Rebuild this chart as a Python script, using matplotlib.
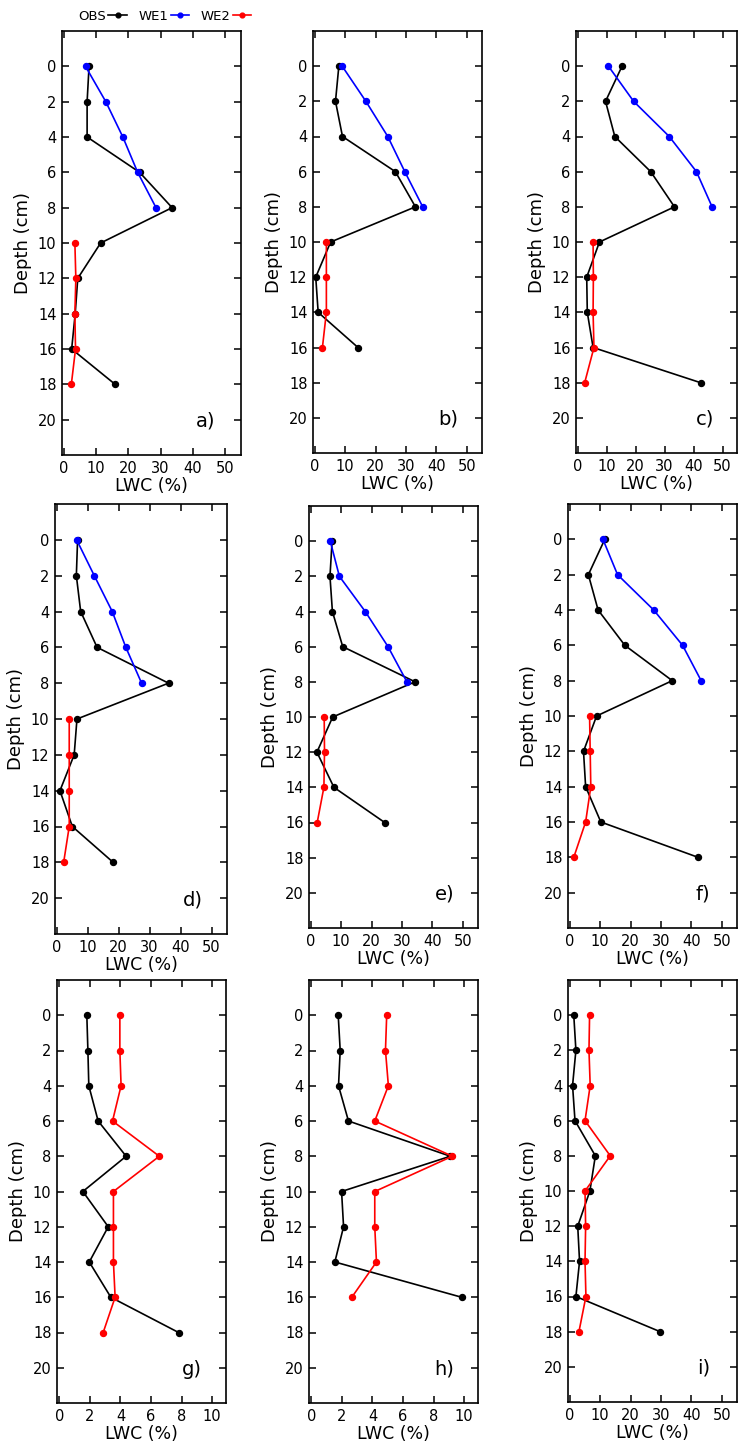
import matplotlib
matplotlib.use("Agg")
import matplotlib.pyplot as plt
import numpy as np

# depth values (cm)
depth_18 = [0, 2, 4, 6, 8, 10, 12, 14, 16, 18]
depth_16 = [0, 2, 4, 6, 8, 10, 12, 14, 16]
depth_we1 = [0, 2, 4, 6, 8]
depth_we2_18 = [10, 12, 14, 16, 18]
depth_we2_16 = [10, 12, 14, 16]

# observed LWC (%)
obs_a = [7.8, 7.2, 7.2, 23.5, 33.6, 11.4, 4.3, 3.5, 2.4, 15.9]
obs_b = [7.9, 6.8, 9.1, 26.5, 33.1, 5.2, 0.3, 1.1, 14.2]
obs_c = [15.3, 9.6, 12.8, 25.2, 33.4, 7.5, 3.1, 3.3, 5.3, 42.4]
obs_d = [6.7, 6.3, 7.7, 13.0, 36.1, 6.5, 5.6, 1.0, 5.0, 18.2]
obs_e = [7.0, 6.3, 7.1, 10.5, 34.3, 7.2, 2.0, 7.6, 24.3]
obs_f = [11.5, 6.1, 9.3, 18.1, 33.7, 8.8, 4.5, 5.2, 10.2, 42.2]
obs_g = [1.8, 1.87, 1.93, 2.54, 4.37, 1.54, 3.2, 1.96, 3.37, 7.8]
obs_h = [1.76, 1.89, 1.78, 2.43, 9.09, 1.98, 2.11, 1.54, 9.83]
obs_i = [1.3, 2.0, 0.9, 1.7, 8.4, 6.6, 2.6, 3.2, 2.0, 29.7]

# WE1 model
we1_a = [6.7, 13.0, 18.3, 22.9, 28.6]
we1_b = [9.0, 16.8, 24.0, 29.6, 35.5]
we1_c = [10.6, 19.3, 31.6, 41.0, 46.4]
we1_d = [6.4, 12.1, 17.9, 22.3, 27.4]
we1_e = [6.4, 9.4, 17.9, 25.4, 31.6]
we1_f = [10.9, 15.7, 27.6, 37.1, 43.2]

# WE2 model
we2_a = [3.4, 3.7, 3.4, 3.6, 2.3]
we2_b = [3.8, 3.8, 3.8, 2.5]
we2_c = [5.3, 5.4, 5.3, 5.6, 2.4]
we2_d = [4.0, 4.0, 4.0, 4.0, 2.2]
we2_e = [4.4, 4.5, 4.3, 2.1]
we2_f = [6.5, 6.7, 6.9, 5.2, 1.3]
we2_g = [3.96, 3.96, 4.04, 3.48, 6.54, 3.54, 3.54, 3.54, 3.65, 2.87]
we2_h = [4.93, 4.85, 5.04, 4.15, 9.22, 4.15, 4.15, 4.26, 2.65]
we2_i = [6.5, 6.3, 6.7, 5.0, 13.3, 5.0, 5.2, 5.0, 5.3, 3.0]

panels = [
    ("a)", depth_18, obs_a, we1_a, depth_we2_18, we2_a),
    ("b)", depth_16, obs_b, we1_b, depth_we2_16, we2_b),
    ("c)", depth_18, obs_c, we1_c, depth_we2_18, we2_c),
    ("d)", depth_18, obs_d, we1_d, depth_we2_18, we2_d),
    ("e)", depth_16, obs_e, we1_e, depth_we2_16, we2_e),
    ("f)", depth_18, obs_f, we1_f, depth_we2_18, we2_f),
    ("g)", depth_18, obs_g, None, depth_18, we2_g),
    ("h)", depth_16, obs_h, None, depth_16, we2_h),
    ("i)", depth_18, obs_i, None, depth_18, we2_i),
]

# axes boxes in pixels: left, top, right, bottom
boxes = [
    (62, 31, 241, 455), (313, 31, 482, 453), (576, 31, 737, 453),
    (55, 504, 227, 934), (309, 506, 478, 928), (568, 504, 737, 928),
    (57, 980, 226, 1403), (309, 980, 478, 1403), (568, 980, 737, 1402),
]

W, H = 738, 1444
fig = plt.figure(figsize=(W / 100, H / 100), dpi=100)

for k in range(9):
    name, dep, obs, we1, dep2, we2 = panels[k]
    l, t, r, b = boxes[k]
    ax = fig.add_axes([l / W, 1 - b / H, (r - l) / W, (b - t) / H])
    ax.plot(obs, dep, color="black", marker="o", ms=4.3, lw=1.2, label="OBS")
    if we1 is not None:
        ax.plot(we1, depth_we1, color="blue", marker="o", ms=4.3, lw=1.2, label="WE1")
    ax.plot(we2, dep2, color="red", marker="o", ms=4.3, lw=1.2, label="WE2")

    if name in ("g)", "h)"):
        ax.set_xlim(-0.15, 10.9)
        ax.set_xticks(np.arange(0, 11, 2))
    else:
        ax.set_xlim(-0.6, 55)
        ax.set_xticks(np.arange(0, 51, 10))
    ax.set_ylim(22, -2)
    ax.set_yticks(np.arange(0, 21, 2))
    ax.tick_params(direction="in", top=True, right=True, length=5, width=1.1,
                   labelsize=10.5, pad=4)
    for s in ax.spines.values():
        s.set_linewidth(1.2)
    ax.set_xlabel("LWC (%)", fontsize=12.5, labelpad=1)
    ax.set_ylabel("Depth (cm)", fontsize=13)
    ax.text(0.8, 0.08, name, transform=ax.transAxes, fontsize=14,
            ha="center", va="center")
    if k == 0:
        fig.legend(loc="upper left", bbox_to_anchor=(72 / W, 1 - 3 / H), ncol=3,
                   frameon=False, markerfirst=False, fontsize=9.5,
                   handlelength=1.4, handletextpad=0.15, columnspacing=0.9,
                   borderpad=0, markerscale=0.8)

fig.savefig("out.png", dpi=100)
